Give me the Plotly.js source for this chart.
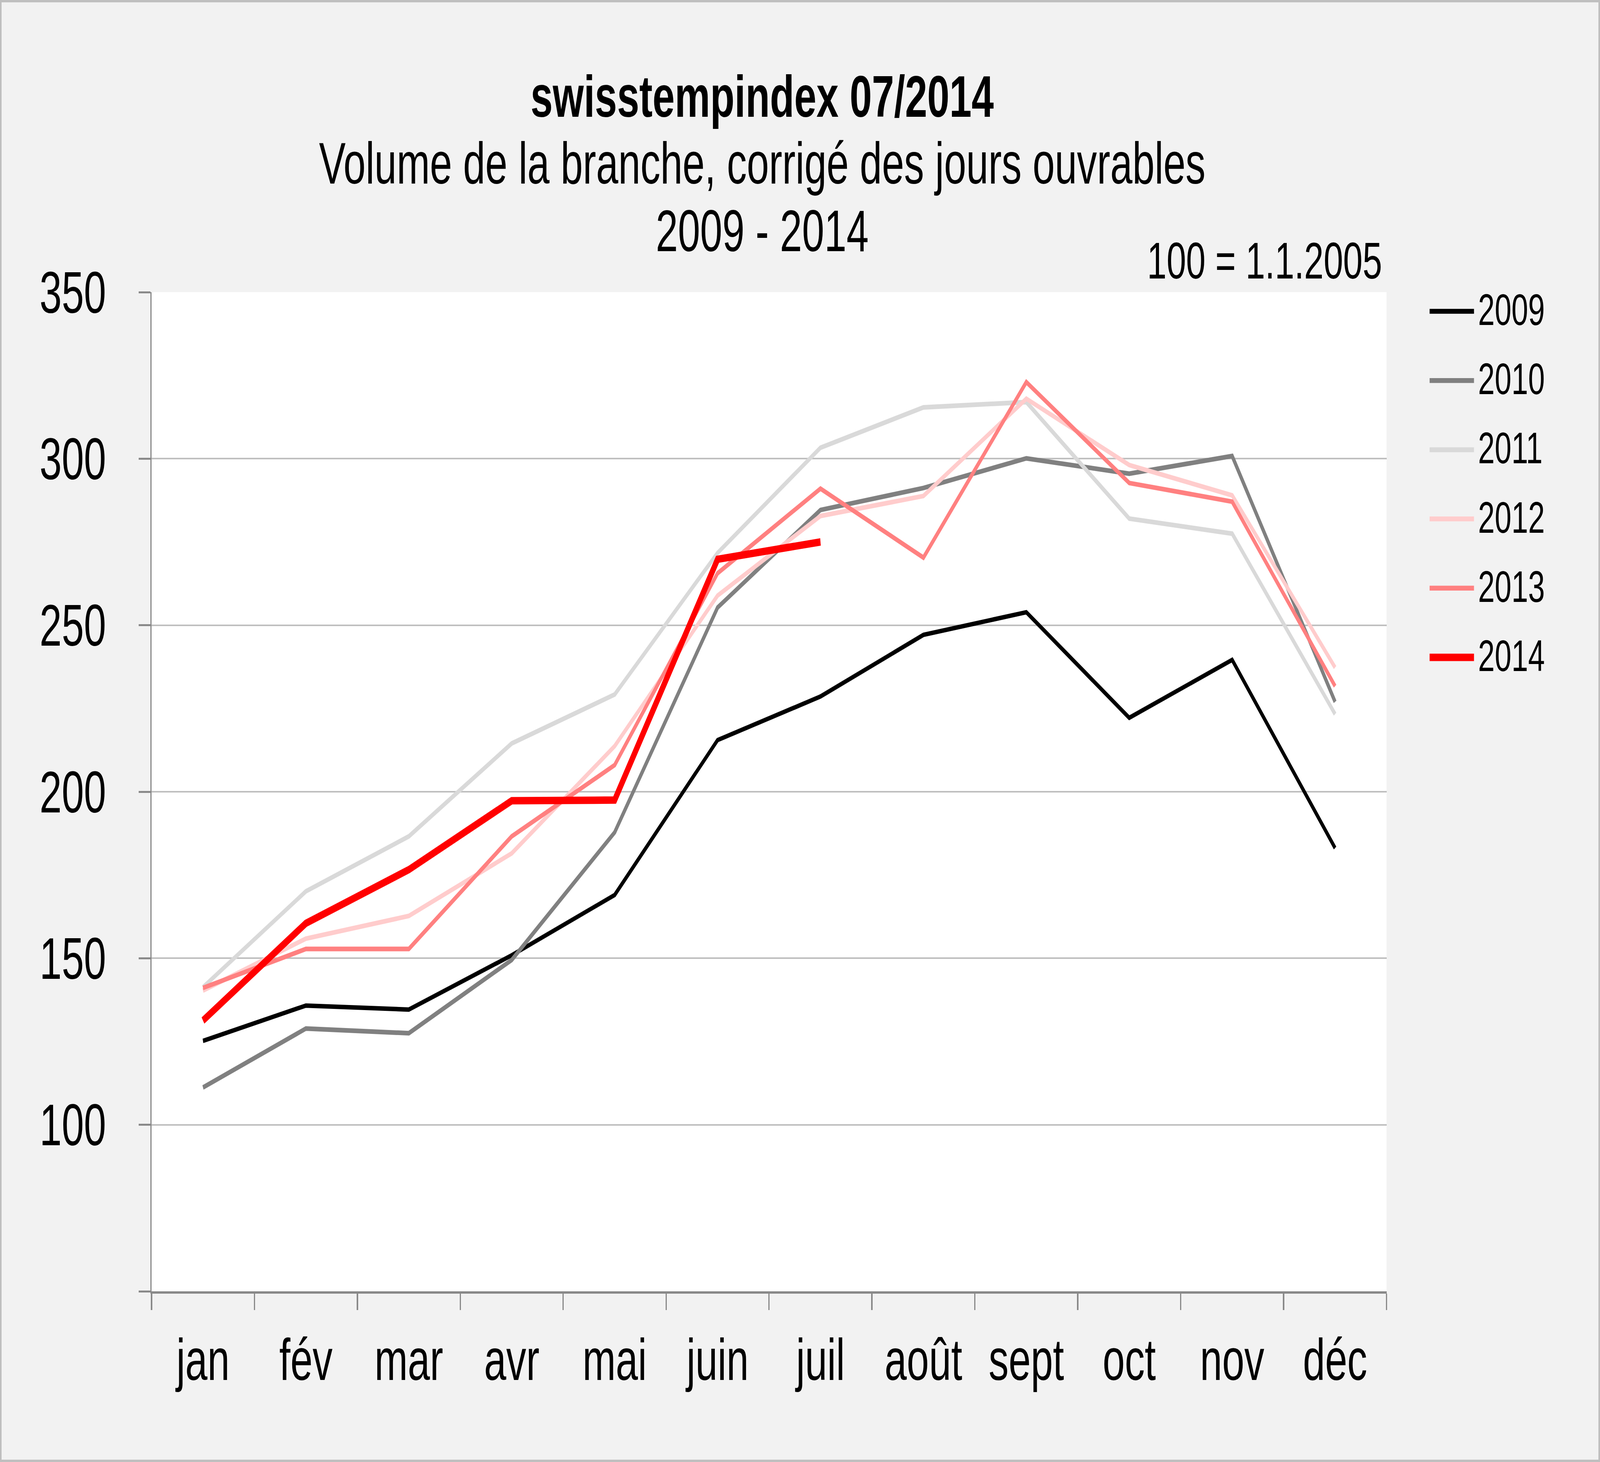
<!DOCTYPE html>
<html>
<head>
<meta charset="utf-8">
<script src="https://cdn.plot.ly/plotly-3.0.1.min.js"></script>
<style>
html, body { margin: 0; padding: 0; background: #f2f2f2; overflow: hidden; }
#chart { position: absolute; left: 0; top: 0; width: 6019px; height: 3743px; transform-origin: 0 0; }
</style>
</head>
<body>
<div id="chart"></div>
<script>
// ---- data ----
const months = ['jan', 'fév', 'mar', 'avr', 'mai', 'juin', 'juil', 'août', 'sept', 'oct', 'nov', 'déc'];
const seriesNames = ['2009', '2010', '2011', '2012', '2013', '2014'];
const y2009 = [125.2, 135.8, 134.6, 150.9, 169.0, 215.5, 228.6, 247.1, 253.9, 222.2, 239.6, 183.1];
const y2010 = [111.2, 128.9, 127.5, 149.5, 187.8, 255.3, 284.6, 291.2, 300.1, 295.5, 300.8, 227.0];
const y2011 = [141.3, 170.1, 186.6, 214.5, 229.2, 271.7, 303.3, 315.4, 317.0, 282.0, 277.5, 223.3];
const y2012 = [140.3, 155.9, 162.7, 181.5, 213.7, 258.9, 282.8, 288.8, 318.0, 298.1, 289.0, 237.3];
const y2013 = [141.1, 152.8, 152.8, 186.6, 208.0, 265.6, 291.0, 270.3, 323.0, 292.7, 287.1, 231.7];
const y2014 = [131.3, 160.5, 176.6, 197.3, 197.5, 269.8, 275.0];
const yTickVals = [50, 100, 150, 200, 250, 300, 350];
const yTickText = ['', '100', '150', '200', '250', '300', '350'];
const titleLines = ['<b>swisstempindex 07/2014</b>', 'Volume de la branche, corrigé des jours ouvrables', '2009 - 2014'];
const baseNote = '100 = 1.1.2005';

// ---- styles ----
const colors = ['#000000', '#808080', '#d9d9d9', '#ffcccc', '#ff8080', '#ff0000'];
const widths = [11.5, 12, 12, 12, 12, 19];
const allY = [y2009, y2010, y2011, y2012, y2013, y2014];

// chart laid out at the reference size, then fitted to the real window
const W = 6019, H = 3743;
const vw = window.innerWidth || W, vh = window.innerHeight || H;
document.getElementById('chart').style.transform = 'scale(' + (vw / W) + ',' + (vh / H) + ')';

const L = 570, R = 5216, T = 748, B = 3306;
const pw = R - L, ph = B - T;
const xp = X => (X - L) / pw;
const yp = Y => (B - Y) / ph;
const FONT = 'Liberation Sans, Arial, sans-serif';

const traces = allY.map((ys, i) => ({
  type: 'scatter',
  mode: 'lines',
  name: seriesNames[i],
  x: months.slice(0, ys.length),
  y: ys,
  line: { color: colors[i], width: widths[i], shape: 'linear' },
  hoverinfo: 'skip',
  showlegend: false
}));

const shapes = [];
const annotations = [];

// outer border
shapes.push({
  type: 'rect', xref: 'paper', yref: 'paper', layer: 'above',
  x0: xp(3), x1: xp(W - 3), y0: yp(H - 3), y1: yp(3),
  line: { color: '#bfbfbf', width: 6 }, fillcolor: 'rgba(0,0,0,0)'
});

// title lines
const titleY = [247, 418, 591];
titleLines.forEach((t, i) => {
  annotations.push({
    xref: 'paper', yref: 'paper', x: xp(2867), y: yp(titleY[i]),
    xanchor: 'center', yanchor: 'middle', showarrow: false,
    text: t, font: { family: FONT, size: 150, color: '#000000' }
  });
});

// base note
annotations.push({
  xref: 'paper', yref: 'paper', x: xp(5202), y: yp(668),
  xanchor: 'right', yanchor: 'middle', showarrow: false,
  text: baseNote, font: { family: FONT, size: 132, color: '#000000' }
});

// custom legend
const legY0 = 797, legStep = 177.2;
seriesNames.forEach((n, i) => {
  const yy = legY0 + i * legStep;
  shapes.push({
    type: 'line', xref: 'paper', yref: 'paper',
    x0: xp(5378), x1: xp(5545), y0: yp(yy), y1: yp(yy),
    line: { color: colors[i], width: i === 5 ? 19 : 12.5 }
  });
  annotations.push({
    xref: 'paper', yref: 'paper', x: xp(5558), y: yp(yy - 4),
    xanchor: 'left', yanchor: 'middle', showarrow: false,
    text: n, font: { family: FONT, size: 113, color: '#000000' }
  });
});

const layout = {
  width: W, height: H,
  paper_bgcolor: '#f2f2f2',
  plot_bgcolor: '#ffffff',
  margin: { l: L, r: W - R, t: T, b: H - B, pad: 0 },
  showlegend: false,
  font: { family: FONT, color: '#000000' },
  xaxis: {
    type: 'category',
    categoryorder: 'array', categoryarray: months,
    range: [-0.5, 11.5],
    tickson: 'boundaries',
    ticks: 'outside', ticklen: 42, tickwidth: 5, tickcolor: '#898989',
    showline: true, linecolor: '#898989', linewidth: 6,
    showgrid: false, zeroline: false,
    tickfont: { family: FONT, size: 150, color: '#000000' },
    ticklabelstandoff: 41,
    fixedrange: true
  },
  yaxis: {
    range: [50, 350],
    tickmode: 'array', tickvals: yTickVals, ticktext: yTickText,
    ticks: 'outside', ticklen: 44, tickwidth: 5, tickcolor: '#898989',
    showline: true, linecolor: '#898989', linewidth: 4,
    showgrid: true, gridcolor: '#bfbfbf', gridwidth: 4,
    zeroline: false,
    tickfont: { family: FONT, size: 150, color: '#000000' },
    ticklabelstandoff: 93,
    fixedrange: true
  },
  shapes: shapes,
  annotations: annotations
};

Plotly.newPlot('chart', traces, layout, { displayModeBar: false, staticPlot: true });
</script>
</body>
</html>
